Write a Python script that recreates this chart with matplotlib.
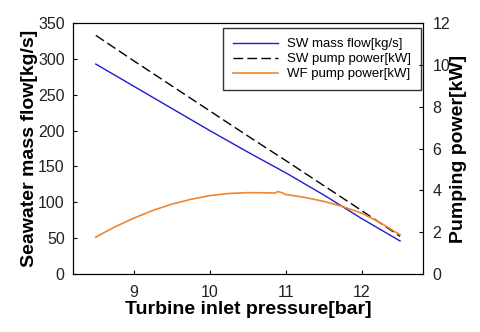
import matplotlib.pyplot as plt

plt.rcParams['font.family'] = ['Liberation Sans', 'DejaVu Sans']

# Turbine inlet pressure [bar]
pressure = [8.5, 9.0, 9.5, 10.0, 10.5, 11.0, 11.5, 12.0, 12.5]
# Seawater mass flow [kg/s]
sw_flow = [293, 262, 231, 200, 170, 141, 110, 77, 46]
# Seawater pump power [kW]
sw_pump = [11.42, 10.20, 9.00, 7.80, 6.60, 5.42, 4.22, 3.02, 1.80]

# Working-fluid pump power [kW] (finer steps, small kink near 10.9 bar)
wf_pressure = [8.5, 8.75, 9.0, 9.25, 9.5, 9.75, 10.0, 10.25, 10.5, 10.75,
               10.85, 10.9, 10.95, 11.0, 11.25, 11.5, 11.75, 12.0, 12.25, 12.5]
wf_pump = [1.76, 2.25, 2.67, 3.04, 3.34, 3.57, 3.75, 3.85, 3.89, 3.88,
           3.87, 3.94, 3.88, 3.80, 3.66, 3.47, 3.22, 2.90, 2.43, 1.87]

fig = plt.figure(figsize=(4.8, 3.32), dpi=100)
ax = fig.add_axes([0.152, 0.175, 0.729, 0.755])
ax2 = ax.twinx()

l1, = ax.plot(pressure, sw_flow, color='#1c1cd0', lw=1.0,
              label='SW mass flow[kg/s]')
l2, = ax2.plot(pressure, sw_pump, color='black', lw=1.0, dashes=(7, 3),
               label='SW pump power[kW]')
l3, = ax2.plot(wf_pressure, wf_pump, color='#f2852e', lw=1.2,
               label='WF pump power[kW]')

ax.set_xlim(8.2, 12.8)
ax.set_ylim(0, 350)
ax2.set_ylim(0, 12)
ax.set_xticks([9, 10, 11, 12])
ax.set_yticks(range(0, 351, 50))
ax2.set_yticks(range(0, 13, 2))

for a in (ax, ax2):
    a.tick_params(direction='in', length=3, labelsize=11.5,
                  colors='black', labelcolor='#222222')
ax.tick_params(axis='x', pad=8)
ax.tick_params(axis='y', pad=6)
ax2.tick_params(axis='y', pad=7)

ax.set_xlabel('Turbine inlet pressure[bar]', fontsize=14,
              fontweight='bold', labelpad=1)
ax.set_ylabel('Seawater mass flow[kg/s]', fontsize=14,
              fontweight='bold', labelpad=0)
ax2.set_ylabel('Pumping power[kW]', fontsize=14, fontweight='bold',
               labelpad=0)

leg = ax.legend(handles=[l1, l2, l3], loc='upper right', fontsize=9.5,
                frameon=True, fancybox=False, edgecolor='black',
                handlelength=3.4, labelspacing=0.2, borderpad=0.75,
                handletextpad=0.7, borderaxespad=0,
                bbox_to_anchor=(0.995, 0.98))
leg.get_frame().set_linewidth(1.0)

fig.savefig('out.png', dpi=100)
